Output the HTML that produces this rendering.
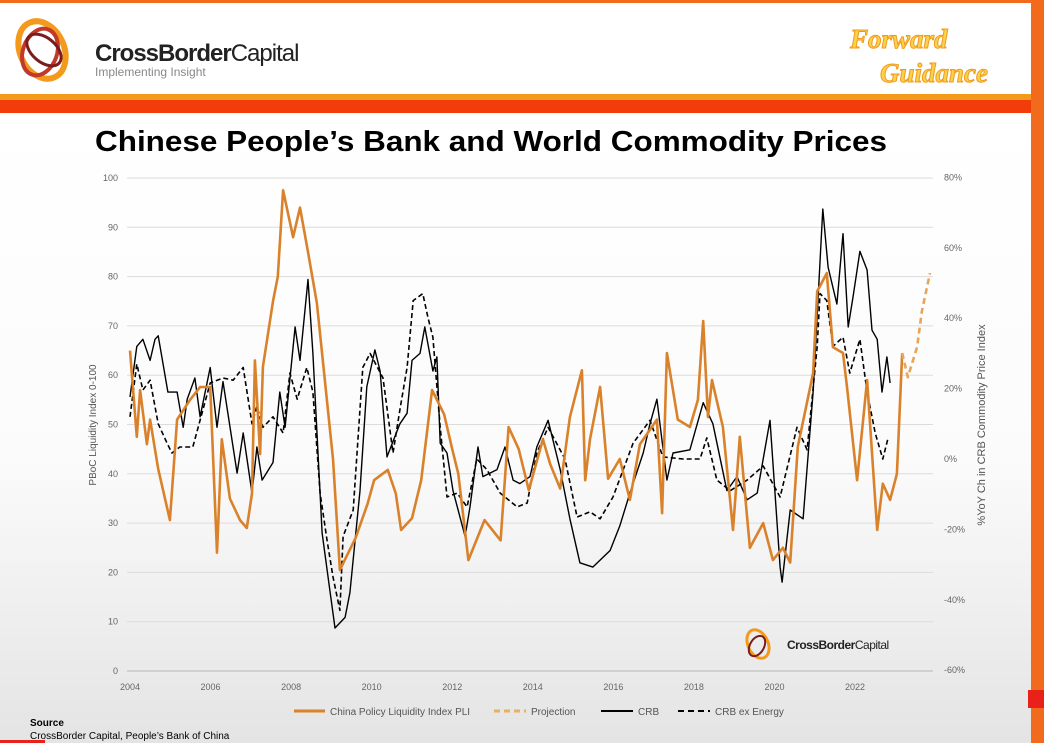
<!DOCTYPE html>
<html><head><meta charset="utf-8">
<style>
body{margin:0;width:1044px;height:743px;overflow:hidden;background:#fff;font-family:"Liberation Sans",sans-serif;}
svg{display:block}
</style></head>
<body>
<svg width="1044" height="743" viewBox="0 0 1044 743">
<defs>
<linearGradient id="bg" x1="0" y1="0" x2="0" y2="1">
<stop offset="0" stop-color="#ffffff"/><stop offset="0.55" stop-color="#fbfbfb"/><stop offset="1" stop-color="#e4e4e4"/>
</linearGradient>
</defs>
<rect x="0" y="113" width="1044" height="630" fill="url(#bg)"/>
<rect x="0" y="0" width="1044" height="3" fill="#f26a1b"/>
<rect x="0" y="94" width="1044" height="6" fill="#f39a1c"/>
<rect x="0" y="100" width="1044" height="13" fill="#f23c0a"/>
<rect x="1031" y="0" width="13" height="743" fill="#f26a1b"/>
<rect x="1028" y="690" width="16" height="18" fill="#e8221b"/>
<g>
<ellipse cx="42" cy="50" rx="22" ry="30" fill="none" stroke="#f39a1c" stroke-width="6" transform="rotate(-25 42 50)"/>
<ellipse cx="40" cy="52" rx="17" ry="24" fill="none" stroke="#c0392b" stroke-width="4" transform="rotate(20 40 52)"/>
<ellipse cx="44" cy="50" rx="12" ry="20" fill="none" stroke="#7a1d1d" stroke-width="3" transform="rotate(-50 44 50)"/>
<text x="95" y="61" font-size="24" font-weight="bold" fill="#222" letter-spacing="-1">CrossBorder<tspan font-weight="normal">Capital</tspan></text>
<text x="95" y="76" font-size="12" fill="#888">Implementing Insight</text>
</g>
<g>
<text x="850" y="48" font-size="27" font-weight="bold" font-style="italic" fill="#f7d34a" stroke="#f39a1c" stroke-width="1" font-family="Liberation Serif, serif">Forward</text>
<text x="880" y="82" font-size="27" font-weight="bold" font-style="italic" fill="#f7d34a" stroke="#f39a1c" stroke-width="1" font-family="Liberation Serif, serif">Guidance</text>
</g>
<text x="95" y="151" font-size="29" font-weight="bold" fill="#000" textLength="792" lengthAdjust="spacingAndGlyphs">Chinese People’s Bank and World Commodity Prices</text>
<g id="grid"></g>
<g id="axes"></g>
<g>
<ellipse cx="758" cy="644" rx="10" ry="15" fill="none" stroke="#f39a1c" stroke-width="3" transform="rotate(-25 758 644)"/>
<ellipse cx="757" cy="646" rx="7" ry="11" fill="none" stroke="#7a1d1d" stroke-width="2" transform="rotate(30 757 646)"/>
<text x="787" y="649" font-size="12" font-weight="bold" fill="#222" letter-spacing="-0.5">CrossBorder<tspan font-weight="normal">Capital</tspan></text>
</g>
<g id="series"></g>
<text x="93" y="425" font-size="10" fill="#555" transform="rotate(-90 93 425)" text-anchor="middle" dy="3">PBoC Liquidity Index 0-100</text>
<text x="985" y="425" font-size="11" fill="#555" transform="rotate(-90 985 425)" text-anchor="middle">%YoY Ch in CRB Commodity Price Index</text>
<g font-size="10" fill="#555">
<line x1="294" y1="711" x2="325" y2="711" stroke="#d9822b" stroke-width="3"/>
<text x="330" y="715">China Policy Liquidity Index PLI</text>
<line x1="494" y1="711" x2="526" y2="711" stroke="#e8b060" stroke-width="3" stroke-dasharray="6,4"/>
<text x="531" y="715">Projection</text>
<line x1="601" y1="711" x2="633" y2="711" stroke="#000" stroke-width="2"/>
<text x="638" y="715">CRB</text>
<line x1="678" y1="711" x2="710" y2="711" stroke="#000" stroke-width="2" stroke-dasharray="6,4"/>
<text x="715" y="715">CRB ex Energy</text>
</g>
<text x="30" y="726" font-size="10" font-weight="bold" fill="#000">Source</text>
<text x="30" y="739" font-size="10" fill="#000">CrossBorder Capital,  People’s Bank of China</text>
<rect x="0" y="740" width="45" height="3" fill="#e8221b"/>
</svg>
<script>
const leftTicks=[0,10,20,30,40,50,60,70,80,90,100];
const rightTicks=[-60,-40,-20,0,20,40,60,80];
const yearTicks=[2004,2006,2008,2010,2012,2014,2016,2018,2020,2022];
const pliDates=[2004.00,2004.17,2004.25,2004.42,2004.50,2004.70,2004.99,2005.17,2005.49,2005.74,2005.99,2006.16,2006.28,2006.48,2006.73,2006.90,2007.03,2007.10,2007.23,2007.30,2007.55,2007.67,2007.80,2008.05,2008.22,2008.42,2008.64,2009.04,2009.21,2009.60,2009.90,2010.06,2010.40,2010.60,2010.73,2011.00,2011.23,2011.50,2011.80,2012.00,2012.15,2012.40,2012.80,2013.20,2013.40,2013.65,2013.90,2014.25,2014.43,2014.68,2014.92,2015.22,2015.30,2015.42,2015.67,2015.87,2016.16,2016.41,2016.66,2017.08,2017.21,2017.33,2017.60,2017.90,2018.10,2018.23,2018.35,2018.45,2018.72,2018.97,2019.14,2019.39,2019.72,2019.96,2020.21,2020.39,2020.58,2020.96,2021.06,2021.30,2021.45,2021.70,2021.80,2022.05,2022.30,2022.55,2022.69,2022.87,2023.04,2023.17];
const pliValues=[65,47.5,57,46,51,41,30.6,51,55,57.6,57.6,24,47,35,30.6,29,36,63,44,61.7,75,80,97.5,88,94,85,74.6,43,20.5,27,34,38.7,40.8,36,28.6,31,38.7,57,52,45,40,22.5,30.6,26.5,49.5,45,36.7,47,42,37,51.5,61,38.7,47,57.6,39,43,34.7,46,51,32,64.5,51,49.5,55,71,51.5,59,49.5,28.6,47.5,25,30,22.5,25,22,45.5,60.4,77,80.7,65.7,64.5,57.6,38.7,59,28.6,38,34.7,40,64.5];
const projDates=[2023.17,2023.31,2023.54,2023.66,2023.86];
const projValues=[64.5,59.6,65.7,73,80.7];
const crbDates=[2004.00,2004.17,2004.32,2004.50,2004.62,2004.70,2004.94,2005.17,2005.32,2005.42,2005.61,2005.74,2005.99,2006.16,2006.31,2006.66,2006.81,2007.03,2007.15,2007.28,2007.55,2007.72,2007.85,2008.10,2008.22,2008.42,2008.54,2008.77,2008.97,2009.09,2009.34,2009.46,2009.71,2009.88,2010.08,2010.21,2010.38,2010.70,2010.88,2011.00,2011.20,2011.32,2011.52,2011.62,2011.70,2011.87,2012.02,2012.32,2012.44,2012.64,2012.76,2013.11,2013.31,2013.51,2013.68,2013.93,2014.10,2014.38,2014.68,2014.92,2015.17,2015.49,2015.92,2016.16,2016.41,2016.74,2016.91,2017.08,2017.33,2017.48,2017.90,2018.23,2018.47,2018.82,2019.07,2019.32,2019.57,2019.89,2020.14,2020.19,2020.39,2020.71,2020.96,2021.20,2021.33,2021.55,2021.70,2021.83,2021.95,2022.12,2022.30,2022.42,2022.55,2022.67,2022.79,2022.87];
const crbValues=[17.6,32,34,28,34,35,19,19,9,17,23,12,26,9,22,-4,7.4,-9.7,3.4,-6,-1,19,9,37.5,28,51,30,-21,-38,-48,-45,-38,-9,20.5,31,25,0.6,10,13,28,30,37.5,25,29,4.5,1.7,-9,-22,-13.6,3.4,-5,-3,3.4,-6,-7,-5,3.4,11,-3,-17,-29.5,-30.7,-26,-19,-9.7,1.7,10,17,-6,1.7,2.6,16,10,-9,-5,-11.6,-9.7,11,-30.7,-35,-14.5,-17,19,71,54.5,44,64,37.5,46,59,53.7,36.6,34,19,29,21.6];
const exDates=[2004.00,2004.17,2004.32,2004.50,2004.70,2004.92,2005.04,2005.24,2005.56,2005.99,2006.31,2006.56,2006.81,2007.03,2007.15,2007.30,2007.55,2007.80,2007.97,2008.15,2008.39,2008.54,2008.72,2008.89,2009.04,2009.21,2009.29,2009.54,2009.78,2009.96,2010.28,2010.53,2010.70,2010.88,2011.03,2011.27,2011.40,2011.52,2011.70,2011.87,2012.12,2012.37,2012.61,2012.86,2013.19,2013.61,2013.86,2014.10,2014.38,2014.80,2015.10,2015.42,2015.67,2015.99,2016.49,2016.91,2017.23,2017.73,2018.15,2018.32,2018.57,2018.90,2019.32,2019.72,2020.14,2020.56,2020.81,2021.06,2021.13,2021.30,2021.45,2021.70,2021.87,2022.12,2022.30,2022.50,2022.69,2022.82];
const exValues=[12,27,19.6,22.4,10,4.5,1.7,3.4,3.4,21.6,23,22.4,26,10,15,9,12,7.4,24.4,17,26,19,-9.7,-23,-33.5,-43,-22,-14.5,26,30,23,1.7,14,26,45,47,40,34.6,9,-10.8,-9.7,-13.6,0,-3,-9.7,-13.6,-12.5,1.7,9,0,-16.5,-15,-17,-10.8,4.5,11,0.6,0,0,6,-6,-9,-6,-2,-10.8,9,2.6,32,47,45,32,34.6,24.4,34,19,7.4,0,6];

const NS='http://www.w3.org/2000/svg';
const X1=933,PX0=127;
function xs(yr){return 130+(yr-2004)*40.28;}
function yl(v){return 671-v*4.93;}
function yr(p){return 459-p*3.52;}
function mk(tag,attrs,parent){const e=document.createElementNS(NS,tag);for(const k in attrs)e.setAttribute(k,attrs[k]);parent.appendChild(e);return e;}
const grid=document.getElementById('grid'),axes=document.getElementById('axes'),ser=document.getElementById('series');
leftTicks.forEach(v=>{
  const l=mk('line',{x1:PX0,x2:X1,y1:yl(v),y2:yl(v),stroke:v===0?'#c8c8c8':'#dcdcdc','stroke-width':v===0?1.5:1},grid);
  
  
  const t=mk('text',{x:118,y:yl(v)+3,'font-size':9,fill:'#666','text-anchor':'end'},axes);
  t.textContent=v;
  
  
});
rightTicks.forEach(v=>{
  const t=mk('text',{x:944,y:yr(v)+3,'font-size':9,fill:'#666'},axes);
  t.textContent=v+'%';
  
  
});
yearTicks.forEach(v=>{
  const t=mk('text',{x:xs(v),y:690,'font-size':9,fill:'#666','text-anchor':'middle'},axes);
  t.textContent=v;
  
  
});
function path(d,vals,yf,attrs,name){
  const p=d.map((t,i)=>(i?'L':'M')+xs(t).toFixed(1)+','+yf(vals[i]).toFixed(1)).join('');
  const e=mk('path',Object.assign({d:p,fill:'none','stroke-linejoin':'round'},attrs),ser);
  
  
}
path(exDates,exValues,yr,{stroke:'#000','stroke-width':1.6,'stroke-dasharray':'5,3'},'crb-ex-energy-line');
path(crbDates,crbValues,yr,{stroke:'#000','stroke-width':1.4},'crb-line');
path(pliDates,pliValues,yl,{stroke:'#d9822b','stroke-width':2.6},'pli-line');
path(projDates,projValues,yl,{stroke:'#e8a55a','stroke-width':2.6,'stroke-dasharray':'6,4'},'projection-line');
</script>
</body></html>
